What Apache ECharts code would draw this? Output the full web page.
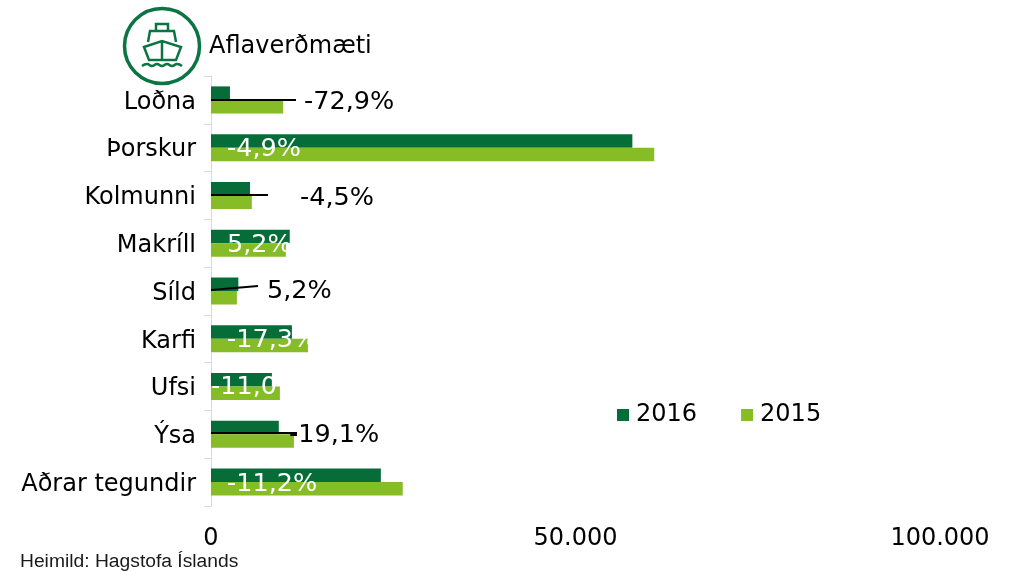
<!DOCTYPE html>
<html>
<head>
<meta charset="utf-8">
<style>
html, body { margin: 0; padding: 0; background: #fff; }
#main { width: 1009px; height: 571px; }
</style>
<script src="https://cdn.jsdelivr.net/npm/echarts@6/dist/echarts.min.js"></script>
</head>
<body>
<div id="main"></div>
<script>
var categories = ['Loðna', 'Þorskur', 'Kolmunni', 'Makríll', 'Síld', 'Karfi', 'Ufsi', 'Ýsa', 'Aðrar tegundir'];
var values2016 = [2600, 57800, 5350, 10800, 3750, 11100, 8350, 9300, 23300];
var values2015 = [9900, 60800, 5600, 10270, 3550, 13300, 9450, 11370, 26300];
var changes = ['-72,9%', '-4,9%', '-4,5%', '5,2%', '5,2%', '-17,3%', '-11,0%', '-19,1%', '-11,2%'];

var fontName = '"DejaVu Sans", Verdana, sans-serif';
var darkGreen = '#066d39';
var lightGreen = '#86bc25';

// hand placed text boxes, same order as changes
var changePos = [
    {x: 304, y: 102, color: '#000'},
    {x: 227, y: 149, color: '#fff'},
    {x: 300, y: 198, color: '#000'},
    {x: 227, y: 245, color: '#fff'},
    {x: 267, y: 291, color: '#000'},
    {x: 227, y: 340, color: '#fff'},
    {x: 211, y: 387, color: '#fff'},
    {x: 289, y: 435, color: '#000'},
    {x: 227, y: 484, color: '#fff'}
];
// leader lines from the axis to the outside labels
var leaders = [
    [211, 100, 296, 100],
    [211, 195, 268, 195],
    [211, 290, 258, 286],
    [211, 433, 297, 433]
];

var graphics = [];
leaders.forEach(function (l) {
    graphics.push({
        type: 'line', z: 10,
        shape: {x1: l[0], y1: l[1], x2: l[2], y2: l[3]},
        style: {stroke: '#000', lineWidth: 2}
    });
});
changes.forEach(function (txt, i) {
    graphics.push({
        type: 'text', z: 11,
        x: changePos[i].x, y: changePos[i].y,
        style: {text: txt, fill: changePos[i].color, font: '25.5px ' + fontName, textVerticalAlign: 'middle'}
    });
});

// ship logo
var iconStyle = {stroke: '#0a7443', lineWidth: 2.5, fill: 'none'};
graphics.push({type: 'circle', shape: {cx: 162, cy: 46, r: 37.5}, style: {stroke: '#0a7443', lineWidth: 3.5, fill: 'none'}});
graphics.push({type: 'polyline', shape: {points: [[156, 31], [156, 24], [168, 24], [168, 31]]}, style: iconStyle});
graphics.push({type: 'polyline', shape: {points: [[148, 42], [150, 31], [174, 31], [176, 42]]}, style: iconStyle});
graphics.push({type: 'polygon', shape: {points: [[144, 47], [162, 41], [181, 47], [176, 60], [149, 60]]}, style: iconStyle});
graphics.push({type: 'line', shape: {x1: 162, y1: 41, x2: 162, y2: 60}, style: iconStyle});
graphics.push({
    type: 'polyline',
    shape: {smooth: 0.5, points: [[142, 66], [147, 64], [152, 66], [157, 64], [162, 66], [167, 64], [172, 66], [177, 64], [182, 66]]},
    style: iconStyle
});

graphics.push({
    type: 'text', x: 209, y: 47,
    style: {text: 'Aflaverðmæti', fill: '#000', font: '24px ' + fontName, textVerticalAlign: 'middle'}
});
graphics.push({
    type: 'text', x: 20, y: 562, scaleX: 1.07,
    style: {text: 'Heimild: Hagstofa Íslands', fill: '#1a1a1a', font: '18px "Liberation Sans", Arial, sans-serif', textVerticalAlign: 'middle'}
});

var myChart = echarts.init(document.getElementById('main'));
var option = {
    animation: false,
    grid: {left: 211, top: 76, width: 729, height: 430, containLabel: false},
    legend: {
        left: 612, top: 398, itemWidth: 12, itemHeight: 12, itemGap: 44,
        icon: 'rect',
        textStyle: {fontFamily: fontName, fontSize: 24, color: '#000', padding: [0, 0, 0, 2]},
        data: ['2016', '2015']
    },
    xAxis: {
        type: 'value', min: 0, max: 100000, interval: 50000,
        axisLine: {show: false}, axisTick: {show: false}, splitLine: {show: false},
        axisLabel: {
            fontFamily: fontName, fontSize: 24, color: '#000', margin: 21,
            formatter: function (v) { return String(v).replace(/\B(?=(\d{3})+$)/g, '.'); }
        }
    },
    yAxis: {
        type: 'category', inverse: true, data: categories,
        axisLine: {lineStyle: {color: '#d9d9d9', width: 1}},
        axisTick: {show: true, length: 7, lineStyle: {color: '#d9d9d9'}},
        axisLabel: {
            color: '#000', margin: 15,
            formatter: function (v) { return '{a|' + v + '}'; },
            rich: {a: {fontFamily: fontName, fontSize: 24, color: '#000', padding: [5, 0, 0, 0]}}
        }
    },
    series: [
        {name: '2016', type: 'bar', data: values2016, barWidth: 13.5, barGap: 0, itemStyle: {color: darkGreen}},
        {name: '2015', type: 'bar', data: values2015, barWidth: 13.5, barGap: 0, itemStyle: {color: lightGreen}}
    ],
    graphic: graphics
};
myChart.setOption(option);
</script>
</body>
</html>
